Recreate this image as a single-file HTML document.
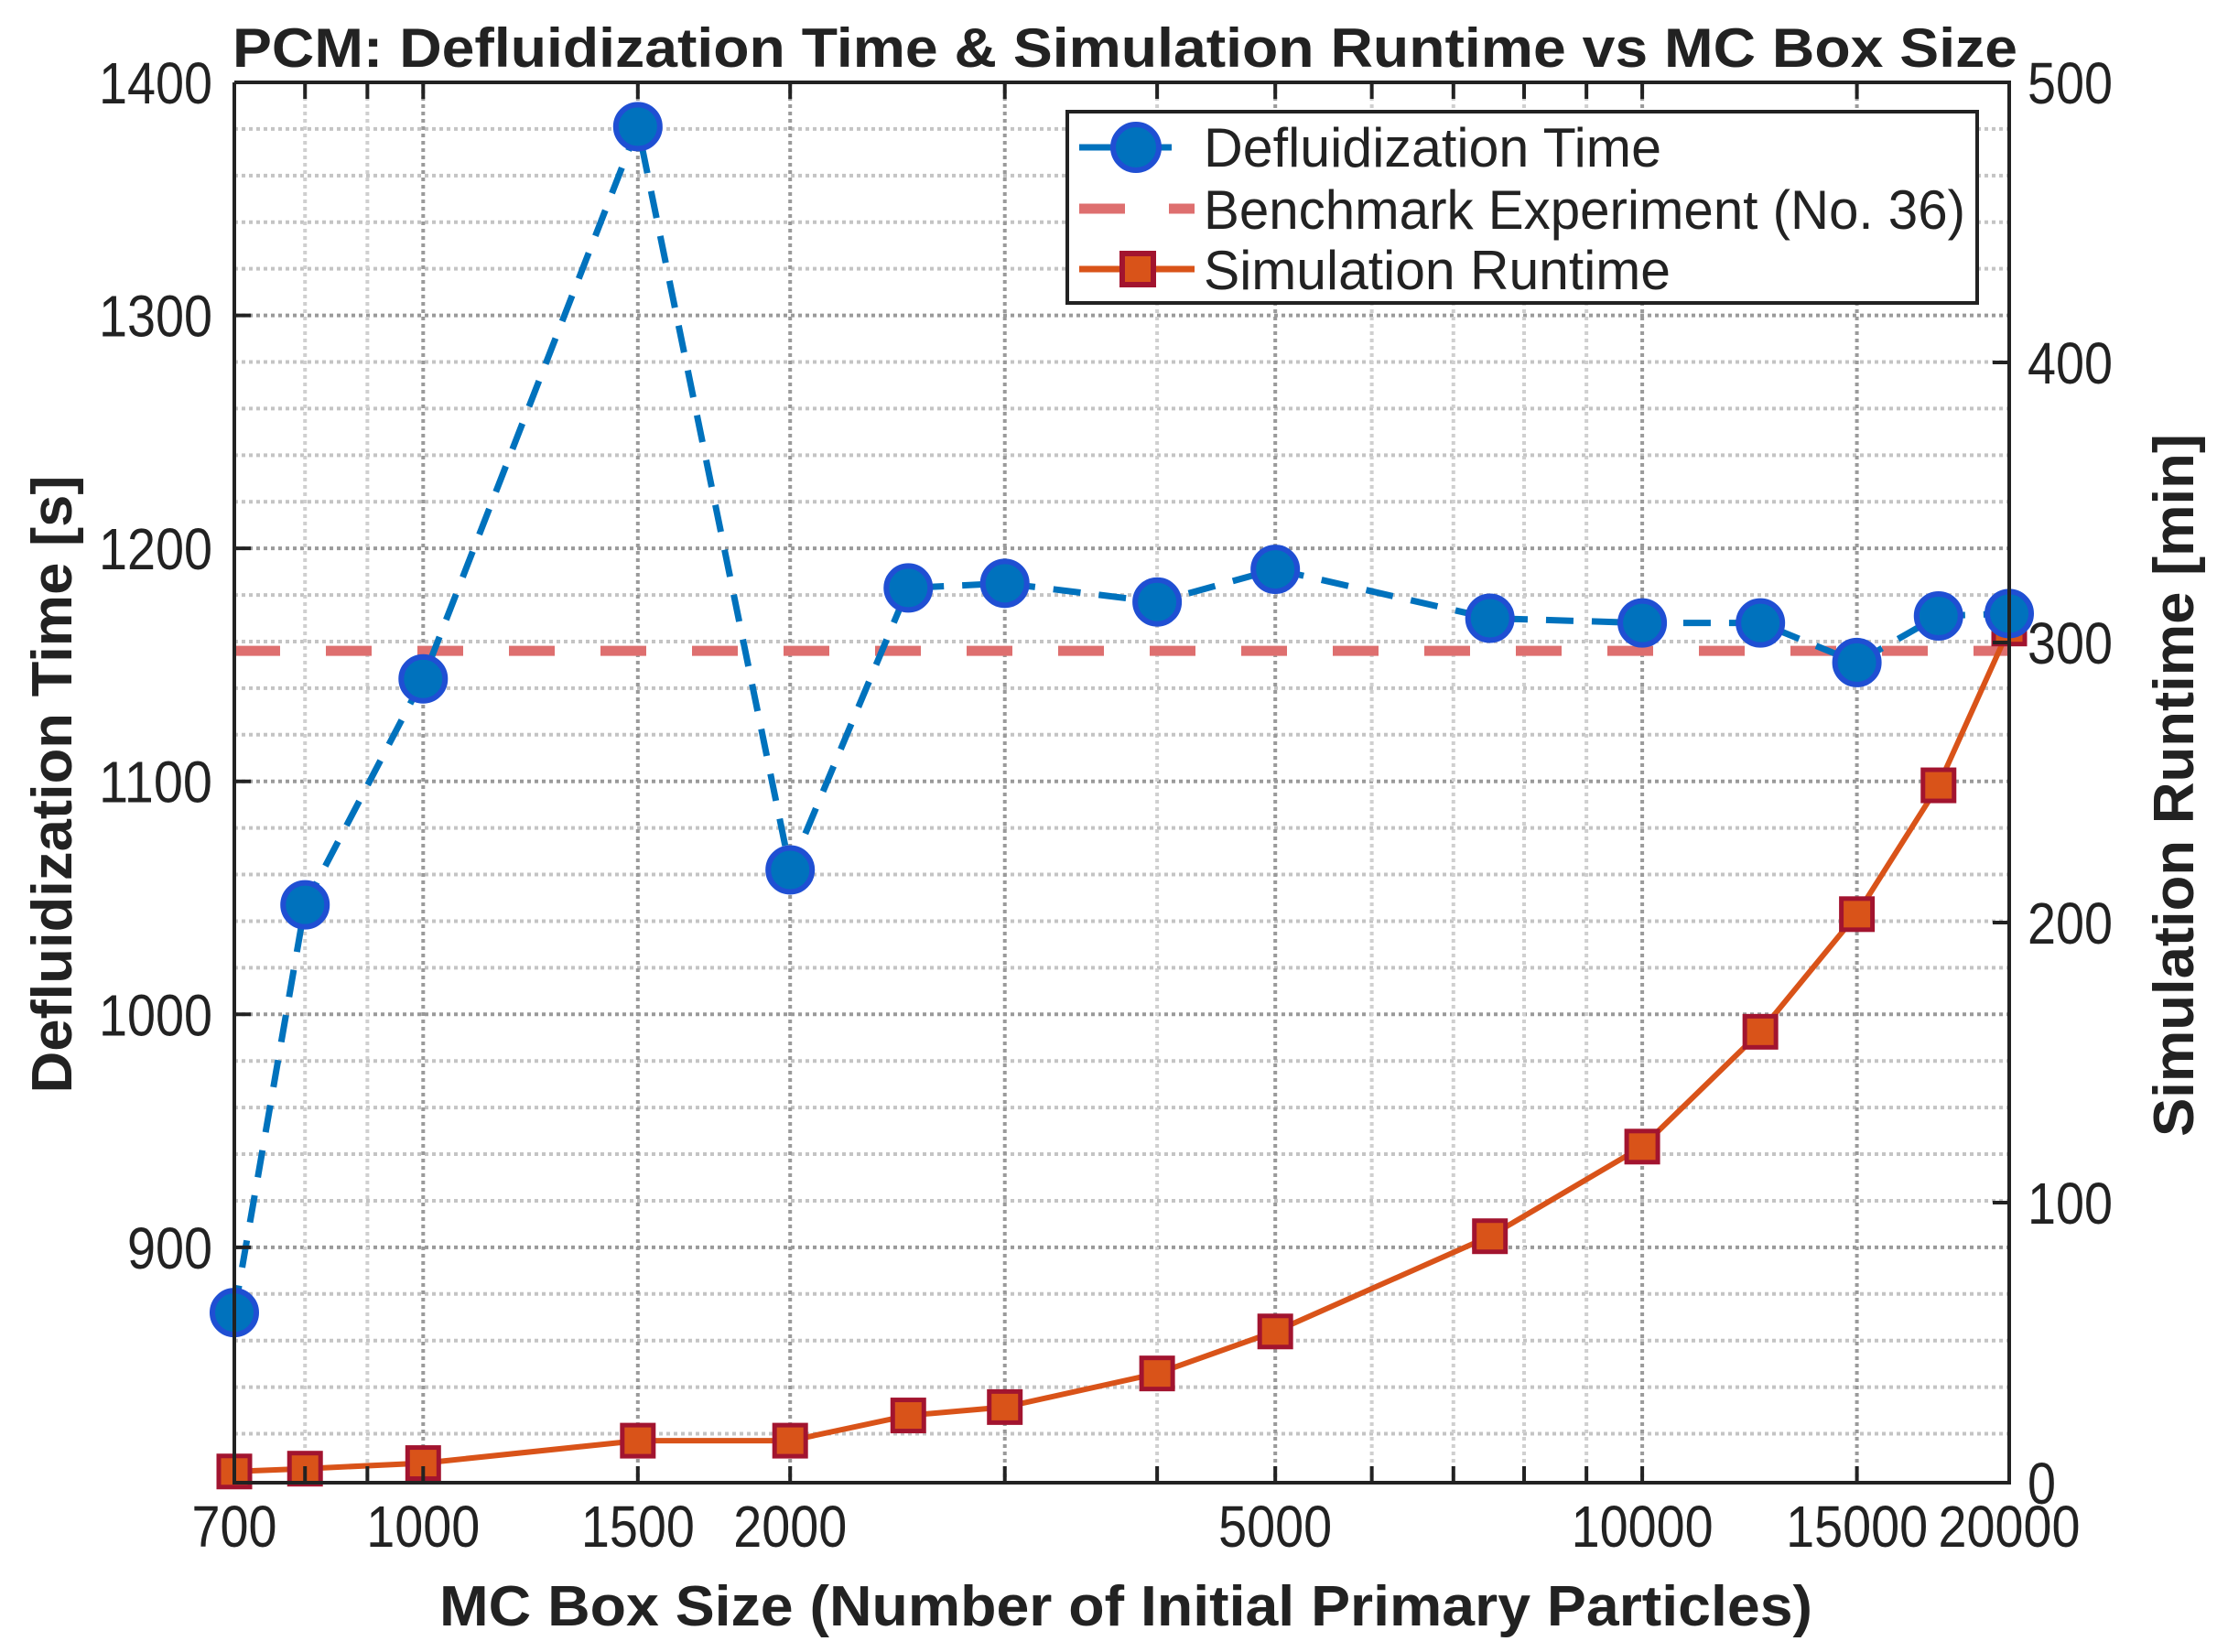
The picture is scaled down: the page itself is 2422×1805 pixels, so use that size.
<!DOCTYPE html>
<html><head><meta charset="utf-8"><style>
html,body{margin:0;padding:0;background:#fff}
svg{display:block;font-family:"Liberation Sans",Arial,sans-serif}
</style></head><body>
<svg id="chart" width="2422" height="1805" viewBox="0 0 2422 1805" xmlns="http://www.w3.org/2000/svg">
<rect x="0" y="0" width="2422" height="1805" fill="#fff"/>
<g id="grid"></g>
<g id="series"></g>
<g id="axes"></g>
<text x="1229" y="73" text-anchor="middle" font-weight="bold" font-size="60" fill="#222" textLength="1950" lengthAdjust="spacingAndGlyphs">PCM: Defluidization Time &amp; Simulation Runtime vs MC Box Size</text>
<text x="1230" y="1776" text-anchor="middle" font-weight="bold" font-size="62" fill="#222" textLength="1500" lengthAdjust="spacingAndGlyphs">MC Box Size (Number of Initial Primary Particles)</text>
<text transform="translate(78,857) rotate(-90)" text-anchor="middle" font-weight="bold" font-size="62" fill="#222" textLength="675" lengthAdjust="spacingAndGlyphs">Defluidization Time [s]</text>
<text transform="translate(2396,858) rotate(-90)" text-anchor="middle" font-weight="bold" font-size="62" fill="#222" textLength="768" lengthAdjust="spacingAndGlyphs">Simulation Runtime [min]</text>
<g>
<rect x="1166" y="122" width="994" height="209" fill="#fff" stroke="#222" stroke-width="4"/>
<g>
<line x1="1179" y1="161" x2="1280" y2="161" stroke="#0072BD" stroke-width="7"/>
<circle cx="1241" cy="161" r="25" fill="#0072BD" stroke="#1F4FD3" stroke-width="6"/>
<text x="1315" y="182" font-size="60" fill="#222" textLength="500" lengthAdjust="spacingAndGlyphs">Defluidization Time</text>
</g>
<g>
<line x1="1179" y1="228" x2="1305" y2="228" stroke="#DE6F6F" stroke-width="11" stroke-dasharray="50,48"/>
<text x="1315" y="250" font-size="60" fill="#222" textLength="832" lengthAdjust="spacingAndGlyphs">Benchmark Experiment (No. 36)</text>
</g>
<g>
<line x1="1179" y1="294" x2="1305" y2="294" stroke="#D95319" stroke-width="7"/>
<rect x="1226" y="277" width="34" height="34" fill="#D95319" stroke="#A2142F" stroke-width="6"/>
<text x="1315" y="316" font-size="60" fill="#222" textLength="510" lengthAdjust="spacingAndGlyphs">Simulation Runtime</text>
</g>
</g>
</svg>
<script>
const boxSizes = [700, 800, 1000, 1500, 2000, 2500, 3000, 4000, 5000, 7500, 10000, 12500, 15000, 17500, 20000];
const defluidTime = [872, 1047, 1144, 1381, 1062, 1183, 1185, 1177, 1191, 1170, 1168, 1168, 1151, 1171, 1172];
const runtimeMin = [4, 5, 7, 15, 15, 24, 27, 39, 54, 88, 120, 161, 203, 249, 305];
const benchmarkTime = [1156];
const xTickLabels = [700, 1000, 1500, 2000, 5000, 10000, 15000, 20000];
const yLeftTicks = [900, 1000, 1100, 1200, 1300, 1400];
const yRightTicks = [0, 100, 200, 300, 400, 500];

const NS = "http://www.w3.org/2000/svg";
const L = 256, R = 2195, T = 90, B = 1620;
const xMin = 700, xMax = 20000, yLmin = 799, yLmax = 1400, yRmin = 0, yRmax = 500;
function xs(v){ return L + (Math.log10(v) - Math.log10(xMin)) / (Math.log10(xMax) - Math.log10(xMin)) * (R - L); }
function yl(v){ return B - (v - yLmin) / (yLmax - yLmin) * (B - T); }
function yr(v){ return B - (v - yRmin) / (yRmax - yRmin) * (B - T); }
function mk(tag, attrs, parent){ const e = document.createElementNS(NS, tag); for (const k in attrs) e.setAttribute(k, attrs[k]); parent.appendChild(e); return e; }

const grid = document.getElementById('grid');
const axes = document.getElementById('axes');
const series = document.getElementById('series');

for (let v = 820; v <= 1400; v += 20) {
  const major = v % 100 === 0;
  const g = mk('line', {x1:L, x2:R, y1:yl(v), y2:yl(v), stroke: major ? '#9a9a9a' : '#c4c4c4', 'stroke-width':4, 'stroke-dasharray':'4,4'}, grid);
  
  
}
const vlines = [800, 900, 1000, 2000, 3000, 4000, 5000, 6000, 7000, 8000, 9000, 10000, 20000, 1500, 15000];
vlines.forEach(v => {
  const major = [1000,1500,2000,3000,5000,10000,15000].includes(v);
  const g = mk('line', {x1:xs(v), x2:xs(v), y1:T, y2:B, stroke: major ? '#9a9a9a' : '#cfcfcf', 'stroke-width':4, 'stroke-dasharray':'4,4'}, grid);
  
  
});

const bl = mk('line', {x1:L, x2:R, y1:yl(benchmarkTime[0]), y2:yl(benchmarkTime[0]), stroke:'#DE6F6F', 'stroke-width':11, 'stroke-dasharray':'50,50'}, series);



const rp = mk('polyline', {points: boxSizes.map((x,i)=>xs(x)+','+yr(runtimeMin[i])).join(' '), fill:'none', stroke:'#D95319', 'stroke-width':6}, series);


boxSizes.forEach((x,i)=>{
  const s = mk('rect', {x:xs(x)-17, y:yr(runtimeMin[i])-17, width:34, height:34, fill:'#D95319', stroke:'#A2142F', 'stroke-width':5}, series);
  
  
});

const dp = mk('polyline', {points: boxSizes.map((x,i)=>xs(x)+','+yl(defluidTime[i])).join(' '), fill:'none', stroke:'#0072BD', 'stroke-width':7, 'stroke-dasharray':'30,20'}, series);


boxSizes.forEach((x,i)=>{
  const c = mk('circle', {cx:xs(x), cy:yl(defluidTime[i]), r:24, fill:'#0072BD', stroke:'#1F4FD3', 'stroke-width':6}, series);
  
  
});

const fr = mk('path', {d:`M${L},${T} L${L},${B} L${R},${B} L${R},${T} L${L},${T}`, fill:'none', stroke:'#222', 'stroke-width':4}, axes);



vlines.forEach(v=>{
  mk('line', {x1:xs(v), x2:xs(v), y1:B, y2:B-18, stroke:'#222', 'stroke-width':4}, axes);
  mk('line', {x1:xs(v), x2:xs(v), y1:T, y2:T+18, stroke:'#222', 'stroke-width':4}, axes);
});
xTickLabels.forEach(v=>{
  const s = String(v);
  const t = mk('text', {x:xs(v), y:1690, 'text-anchor':'middle', 'font-size':64, fill:'#222', textLength: s.length*31, lengthAdjust:'spacingAndGlyphs'}, axes);
  t.textContent = s;
  
  
});
yLeftTicks.forEach(v=>{
  const s = String(v);
  mk('line', {x1:L, x2:L+18, y1:yl(v), y2:yl(v), stroke:'#222', 'stroke-width':4}, axes);
  const t = mk('text', {x:232, y:yl(v)+23, 'text-anchor':'end', 'font-size':64, fill:'#222', textLength: s.length*31, lengthAdjust:'spacingAndGlyphs'}, axes);
  t.textContent = s;
  
  
});
yRightTicks.forEach(v=>{
  const s = String(v);
  mk('line', {x1:R-18, x2:R, y1:yr(v), y2:yr(v), stroke:'#222', 'stroke-width':4}, axes);
  const t = mk('text', {x:2215, y:yr(v)+23, 'text-anchor':'start', 'font-size':64, fill:'#222', textLength: s.length*31, lengthAdjust:'spacingAndGlyphs'}, axes);
  t.textContent = s;
  
  
});
</script>
</body></html>
